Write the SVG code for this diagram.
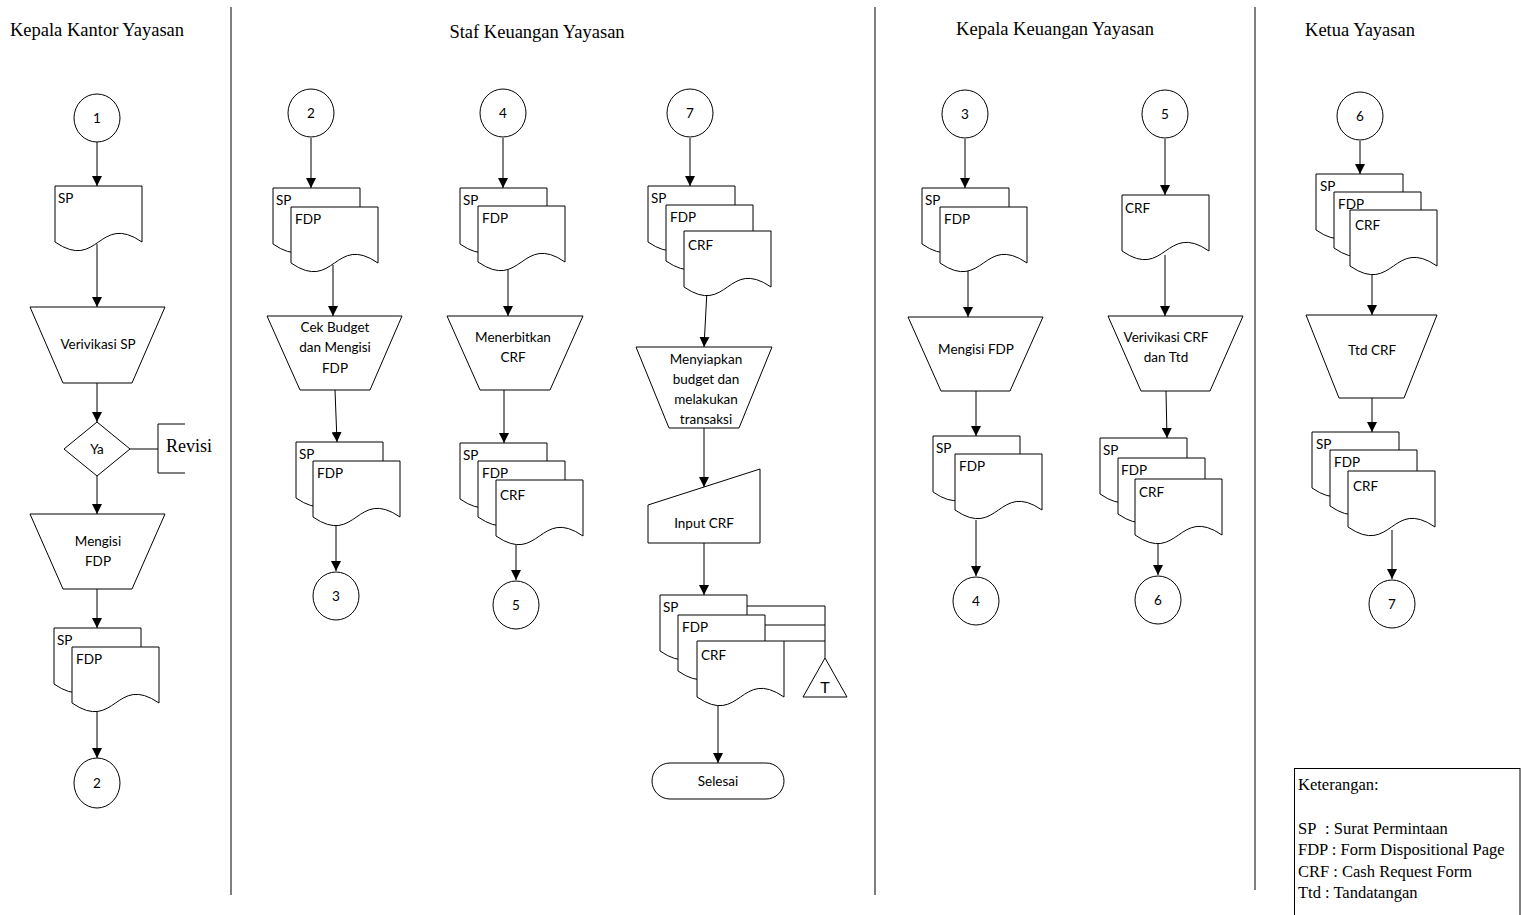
<svg xmlns="http://www.w3.org/2000/svg" xmlns:xlink="http://www.w3.org/1999/xlink" width="1521" height="915" viewBox="0 0 1521 915">
<style>
.ln{stroke:#000;stroke-width:1;fill:none}
.arr{stroke:#000;stroke-width:1;fill:none;marker-end:url(#ah)}
.sh{fill:#fff;stroke:#000;stroke-width:1}
.t{font-family:Lato,"Liberation Sans",sans-serif;font-size:13.5px;text-anchor:middle;fill:#000}
.tl{font-family:Lato,"Liberation Sans",sans-serif;font-size:13.5px;text-anchor:start;fill:#000}
.ttl{font-family:"Liberation Serif",serif;font-size:18.5px;text-anchor:middle;fill:#000}
.lg{font-family:"Liberation Serif",serif;font-size:16.5px;text-anchor:start;fill:#000}
</style>
<defs>
<marker id="ah" markerWidth="10" markerHeight="10" refX="10" refY="5" orient="auto" markerUnits="userSpaceOnUse">
<path d="M0,0 L10,5 L0,10 Z" fill="#000"/>
</marker>
<path id="doc" d="M0,0 H87 V56 C43.5,26 43.5,86 0,56 Z"/>
</defs>
<rect width="1521" height="915" fill="#fff"/>

<g id="lanes">
<path class="ln" d="M231,7 V895 M875,7 V895 M1255,7 V890"/>
<text class="ttl" x="97" y="36">Kepala Kantor Yayasan</text>
<text class="ttl" x="537" y="38">Staf Keuangan Yayasan</text>
<text class="ttl" x="1055" y="35">Kepala Keuangan Yayasan</text>
<text class="ttl" x="1360" y="36">Ketua Yayasan</text>
</g>

<g id="connectors">
<path class="arr" d="M97,141 V186"/>
<path class="arr" d="M97,244 V307"/>
<path class="arr" d="M97,383 V422"/>
<path class="arr" d="M97,476 V514"/>
<path class="arr" d="M97,589 V628"/>
<path class="arr" d="M97,705 V758"/>
<path class="ln" d="M130,449 H158"/>
<path class="arr" d="M311,138 V188"/>
<path class="arr" d="M333,265 V316"/>
<path class="arr" d="M335,390 L337,442"/>
<path class="arr" d="M336,522 V571"/>
<path class="arr" d="M503,138 V188"/>
<path class="arr" d="M508,265 V316"/>
<path class="arr" d="M504,390 V443"/>
<path class="arr" d="M516,545 V580"/>
<path class="arr" d="M690,138 V186"/>
<path class="arr" d="M707,290 L704,347"/>
<path class="arr" d="M704,428 V487"/>
<path class="arr" d="M704,543 V595"/>
<path class="arr" d="M718,700 V763"/>
<path class="ln" d="M747,606 H825 M765,625 H825 M784,641 H825 M825,606 V658"/>
<path class="arr" d="M965,139 V188"/>
<path class="arr" d="M968,265 V317"/>
<path class="arr" d="M976,391 V436"/>
<path class="arr" d="M976,520 V576"/>
<path class="arr" d="M1165,139 V195"/>
<path class="arr" d="M1165,255 V316"/>
<path class="arr" d="M1166,391 L1167,438"/>
<path class="arr" d="M1158,540 V575"/>
<path class="arr" d="M1360,141 V174"/>
<path class="arr" d="M1372,268 V315"/>
<path class="arr" d="M1372,398 V432"/>
<path class="arr" d="M1392,530 V579"/>
</g>

<!-- Kepala Kantor Yayasan -->
<g id="kk-c1"><ellipse class="sh" cx="97" cy="118" rx="23" ry="24"/><text class="t" x="97" y="123">1</text></g>
<g id="kk-doc1"><use href="#doc" x="55" y="186" class="sh"/><text class="tl" x="58" y="203">SP</text></g>
<g id="kk-verif"><polygon class="sh" points="30,307 165,307 132,383 63,383"/><text class="t" x="98" y="349">Verivikasi SP</text></g>
<g id="kk-ya"><polygon class="sh" points="97,422 130,449 97,476 64,449"/><text class="t" x="97" y="454">Ya</text></g>
<g id="kk-revisi"><path class="ln" d="M185,424 H158 V473 H185"/><text class="lg" x="166" y="452" style="font-size:18px">Revisi</text></g>
<g id="kk-mengisi"><polygon class="sh" points="30,514 165,514 132,589 63,589"/><text class="t" x="98" y="546">Mengisi</text><text class="t" x="98" y="566">FDP</text></g>
<g id="kk-doc2"><use href="#doc" x="54" y="628" class="sh"/><use href="#doc" x="72" y="647" class="sh"/><text class="tl" x="57" y="645">SP</text><text class="tl" x="76" y="664">FDP</text></g>
<g id="kk-c2"><ellipse class="sh" cx="97" cy="783" rx="23" ry="25"/><text class="t" x="97" y="788">2</text></g>

<!-- Staf Keuangan col1 -->
<g id="sk-c2"><ellipse class="sh" cx="311" cy="113" rx="23" ry="24"/><text class="t" x="311" y="118">2</text></g>
<g id="sk-doc1"><use href="#doc" x="273" y="188" class="sh"/><use href="#doc" x="291" y="207" class="sh"/><text class="tl" x="276" y="205">SP</text><text class="tl" x="295" y="224">FDP</text></g>
<g id="sk-cek"><polygon class="sh" points="267,316 402,316 370,390 300,390"/><text class="t" x="335" y="332">Cek Budget</text><text class="t" x="335" y="352">dan Mengisi</text><text class="t" x="335" y="373">FDP</text></g>
<g id="sk-doc2"><use href="#doc" x="296" y="442" class="sh"/><use href="#doc" x="313" y="461" class="sh"/><text class="tl" x="299" y="459">SP</text><text class="tl" x="317" y="478">FDP</text></g>
<g id="sk-c3"><ellipse class="sh" cx="336" cy="596" rx="23" ry="24"/><text class="t" x="336" y="601">3</text></g>

<!-- Staf Keuangan col2 -->
<g id="sk-c4"><ellipse class="sh" cx="503" cy="113" rx="23" ry="24"/><text class="t" x="503" y="118">4</text></g>
<g id="sk-doc3"><use href="#doc" x="460" y="188" class="sh"/><use href="#doc" x="478" y="206" class="sh"/><text class="tl" x="463" y="205">SP</text><text class="tl" x="482" y="223">FDP</text></g>
<g id="sk-terbit"><polygon class="sh" points="447,316 583,316 550,390 480,390"/><text class="t" x="513" y="342">Menerbitkan</text><text class="t" x="513" y="362">CRF</text></g>
<g id="sk-doc4"><use href="#doc" x="460" y="443" class="sh"/><use href="#doc" x="478" y="461" class="sh"/><use href="#doc" x="496" y="480" class="sh"/><text class="tl" x="463" y="460">SP</text><text class="tl" x="482" y="478">FDP</text><text class="tl" x="500" y="500">CRF</text></g>
<g id="sk-c5"><ellipse class="sh" cx="516" cy="605" rx="23" ry="24"/><text class="t" x="516" y="610">5</text></g>

<!-- Staf Keuangan col3 -->
<g id="sk-c7"><ellipse class="sh" cx="690" cy="113" rx="23" ry="24"/><text class="t" x="690" y="118">7</text></g>
<g id="sk-doc5"><use href="#doc" x="648" y="186" class="sh"/><use href="#doc" x="666" y="205" class="sh"/><use href="#doc" x="684" y="231" class="sh"/><text class="tl" x="651" y="203">SP</text><text class="tl" x="670" y="222">FDP</text><text class="tl" x="688" y="250">CRF</text></g>
<g id="sk-siap"><polygon class="sh" points="636,347 772,347 739,428 669,428"/><text class="t" x="706" y="364">Menyiapkan</text><text class="t" x="706" y="384">budget dan</text><text class="t" x="706" y="404">melakukan</text><text class="t" x="706" y="424">transaksi</text></g>
<g id="sk-input"><polygon class="sh" points="648,505 760,469 760,543 648,543"/><text class="t" x="704" y="528">Input CRF</text></g>
<g id="sk-doc6"><use href="#doc" x="660" y="595" class="sh"/><use href="#doc" x="678" y="615" class="sh"/><use href="#doc" x="697" y="641" class="sh"/><text class="tl" x="663" y="612">SP</text><text class="tl" x="682" y="632">FDP</text><text class="tl" x="701" y="660">CRF</text></g>
<g id="sk-arsip"><polygon class="sh" points="825,658 847,697 803,697"/><text class="t" x="825" y="693" style="font-size:16px">T</text></g>
<g id="sk-selesai"><rect class="sh" x="652" y="763" width="132" height="36" rx="18"/><text class="t" x="718" y="786">Selesai</text></g>

<!-- Kepala Keuangan -->
<g id="kg-c3"><ellipse class="sh" cx="965" cy="114" rx="23" ry="24"/><text class="t" x="965" y="119">3</text></g>
<g id="kg-doc1"><use href="#doc" x="922" y="188" class="sh"/><use href="#doc" x="940" y="207" class="sh"/><text class="tl" x="925" y="205">SP</text><text class="tl" x="944" y="224">FDP</text></g>
<g id="kg-mengisi"><polygon class="sh" points="908,317 1043,317 1010,391 941,391"/><text class="t" x="976" y="354">Mengisi FDP</text></g>
<g id="kg-doc2"><use href="#doc" x="933" y="436" class="sh"/><use href="#doc" x="955" y="454" class="sh"/><text class="tl" x="936" y="453">SP</text><text class="tl" x="959" y="471">FDP</text></g>
<g id="kg-c4"><ellipse class="sh" cx="976" cy="601" rx="23" ry="24"/><text class="t" x="976" y="606">4</text></g>
<g id="kg-c5"><ellipse class="sh" cx="1165" cy="114" rx="23" ry="24"/><text class="t" x="1165" y="119">5</text></g>
<g id="kg-doc3"><use href="#doc" x="1122" y="195" class="sh"/><text class="tl" x="1125" y="213">CRF</text></g>
<g id="kg-verif"><polygon class="sh" points="1108,316 1243,316 1210,391 1141,391"/><text class="t" x="1166" y="342">Verivikasi CRF</text><text class="t" x="1166" y="362">dan Ttd</text></g>
<g id="kg-doc4"><use href="#doc" x="1100" y="438" class="sh"/><use href="#doc" x="1118" y="458" class="sh"/><use href="#doc" x="1135" y="479" class="sh"/><text class="tl" x="1103" y="455">SP</text><text class="tl" x="1121" y="475">FDP</text><text class="tl" x="1139" y="497">CRF</text></g>
<g id="kg-c6"><ellipse class="sh" cx="1158" cy="600" rx="23" ry="24"/><text class="t" x="1158" y="605">6</text></g>

<!-- Ketua Yayasan -->
<g id="ky-c6"><ellipse class="sh" cx="1360" cy="116" rx="23" ry="24"/><text class="t" x="1360" y="121">6</text></g>
<g id="ky-doc1"><use href="#doc" x="1316" y="174" class="sh"/><use href="#doc" x="1334" y="192" class="sh"/><use href="#doc" x="1350" y="210" class="sh"/><text class="tl" x="1320" y="191">SP</text><text class="tl" x="1338" y="209">FDP</text><text class="tl" x="1355" y="230">CRF</text></g>
<g id="ky-ttd"><polygon class="sh" points="1306,315 1437,315 1404,398 1339,398"/><text class="t" x="1372" y="355">Ttd CRF</text></g>
<g id="ky-doc2"><use href="#doc" x="1312" y="432" class="sh"/><use href="#doc" x="1330" y="450" class="sh"/><use href="#doc" x="1348" y="471" class="sh"/><text class="tl" x="1316" y="449">SP</text><text class="tl" x="1334" y="467">FDP</text><text class="tl" x="1353" y="491">CRF</text></g>
<g id="ky-c7"><ellipse class="sh" cx="1392" cy="604" rx="23" ry="24"/><text class="t" x="1392" y="609">7</text></g>

<g id="legend">
<rect class="sh" x="1294.5" y="768.5" width="225.5" height="160"/>
<text class="lg" x="1298" y="790">Keterangan:</text>
<text class="lg" x="1298" y="834">SP<tspan x="1325">: Surat Permintaan</tspan></text>
<text class="lg" x="1298" y="855">FDP : Form Dispositional Page</text>
<text class="lg" x="1298" y="877">CRF : Cash Request Form</text>
<text class="lg" x="1298" y="898">Ttd<tspan x="1325">: Tandatangan</tspan></text>
</g>
</svg>
